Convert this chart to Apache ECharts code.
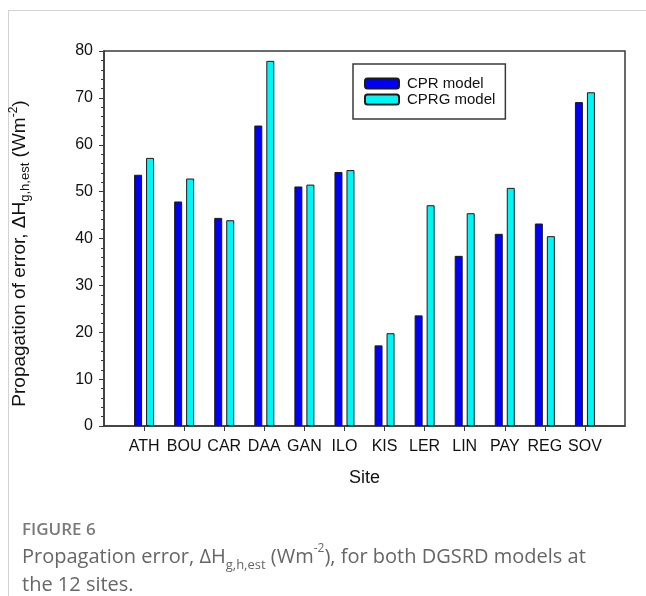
<!DOCTYPE html>
<html>
<head>
<meta charset="utf-8">
<script src="https://cdn.jsdelivr.net/npm/echarts@6/dist/echarts.min.js"></script>
<style>
  html, body { margin: 0; padding: 0; background: #fff; }
  #chart { width: 646px; height: 596px; }
</style>
</head>
<body>
<div id="chart"></div>
<script>
// Sites and propagation error per model (W m^-2)
const sites = ['ATH', 'BOU', 'CAR', 'DAA', 'GAN', 'ILO', 'KIS', 'LER', 'LIN', 'PAY', 'REG', 'SOV'];
const cprValues  = [53.6, 47.9, 44.4, 64.1, 51.1, 54.2, 17.2, 23.6, 36.3, 41.0, 43.2, 69.1];
const cprgValues = [57.2, 52.8, 43.9, 77.9, 51.5, 54.6, 19.8, 47.1, 45.4, 50.8, 40.5, 71.2];
const yTicks = { min: 0, max: 80, step: 10 };

// Pad both ends with an empty slot so the sites sit one step in from the frame
const axisCats = [''].concat(sites, ['']);
const pad = arr => [null].concat(arr, [null]);
const lastIdx = axisCats.length - 1;

const axisFont = 'Liberation Sans, Arial, sans-serif';
const frameColor = '#3a3a3a';
const captionColor = '#666';

const chart = echarts.init(document.getElementById('chart'), null, { renderer: 'canvas' });

chart.setOption({
  backgroundColor: '#ffffff',
  animation: false,
  grid: {
    left: 102, top: 51, width: 523, height: 375,
    show: true, borderColor: frameColor, borderWidth: 1.5, backgroundColor: 'transparent'
  },
  legend: {
    orient: 'vertical',
    left: 353, top: 64,
    itemWidth: 34, itemHeight: 10, itemGap: 1,
    padding: [12, 10, 12, 11],
    borderColor: frameColor, borderWidth: 1.5,
    backgroundColor: '#fff',
    textStyle: { fontFamily: axisFont, fontSize: 15, color: '#111', lineHeight: 15, padding: [0, 0, 0, 3] },
    data: ['CPR model', 'CPRG model']
  },
  xAxis: {
    type: 'category',
    data: axisCats,
    boundaryGap: false,
    name: 'Site',
    nameLocation: 'middle',
    nameGap: 43,
    nameTextStyle: { fontFamily: axisFont, fontSize: 18, color: '#111' },
    axisLine: { lineStyle: { color: frameColor, width: 1.5 } },
    axisTick: {
      show: true, inside: false, length: 5,
      interval: (i) => i > 0 && i < lastIdx,
      lineStyle: { color: frameColor, width: 1 }
    },
    axisLabel: {
      fontFamily: axisFont, fontSize: 16, color: '#111', margin: 13,
      interval: 0
    },
    splitLine: { show: false }
  },
  yAxis: {
    type: 'value',
    min: yTicks.min, max: yTicks.max, interval: yTicks.step,
    name: '{m|Propagation of error, \u0394H}{sub|g,h,est}{m| (Wm}{sup|-2}{m|)}',
    nameLocation: 'middle',
    nameGap: 72,
    nameRotate: 90,
    nameTextStyle: {
      fontFamily: axisFont, fontSize: 19, color: '#111',
      padding: [0, 30, 0, 0],
      rich: {
        m:   { fontFamily: axisFont, fontSize: 19, color: '#111', lineHeight: 24, verticalAlign: 'middle' },
        sub: { fontFamily: axisFont, fontSize: 13, color: '#111', lineHeight: 13, verticalAlign: 'bottom' },
        sup: { fontFamily: axisFont, fontSize: 12, color: '#111', lineHeight: 12, verticalAlign: 'top' }
      }
    },
    axisLine: { show: true, lineStyle: { color: frameColor, width: 1.5 } },
    axisTick: { show: true, inside: false, length: 5, lineStyle: { color: frameColor, width: 1 } },
    minorTick: { show: true, splitNumber: 5, length: 3, lineStyle: { color: frameColor, width: 1 } },
    axisLabel: { fontFamily: axisFont, fontSize: 16, color: '#111', margin: 11 },
    splitLine: { show: false }
  },
  series: [
    {
      name: 'CPR model', type: 'bar',
      data: pad(cprValues),
      barWidth: 8, barGap: '50%',
      itemStyle: { color: '#0000f5', borderColor: '#1a1a1a', borderWidth: 1 }
    },
    {
      name: 'CPRG model', type: 'bar',
      data: pad(cprgValues),
      barWidth: 8, barGap: '50%',
      itemStyle: { color: '#00f5f5', borderColor: '#1a1a1a', borderWidth: 1 }
    }
  ],
  graphic: [
    { type: 'line', shape: { x1: 8, y1: 10.5, x2: 646, y2: 10.5 }, style: { stroke: '#d2d2d2', lineWidth: 1 } },
    { type: 'line', shape: { x1: 8.5, y1: 10, x2: 8.5, y2: 596 }, style: { stroke: '#d2d2d2', lineWidth: 1 } },
    {
      type: 'text', left: 22, top: 522,
      style: { text: 'FIGURE 6', font: '600 17px "Open Sans", sans-serif', fill: '#7a7a7a' }
    },
    {
      type: 'text', left: 22, top: 543,
      style: {
        text: '{m|Propagation error, \u0394H}{sub|g,h,est}{m| (Wm}{sup|-2}{m|), for both DGSRD models at}',
        rich: {
          m:   { fontFamily: 'Open Sans', fontSize: 20, fill: captionColor, lineHeight: 29, verticalAlign: 'middle' },
          sub: { fontFamily: 'Open Sans', fontSize: 13, fill: captionColor, lineHeight: 15, verticalAlign: 'bottom' },
          sup: { fontFamily: 'Open Sans', fontSize: 12, fill: captionColor, lineHeight: 15, verticalAlign: 'top' }
        }
      }
    },
    {
      type: 'text', left: 22, top: 575,
      style: { text: 'the 12 sites.', font: '20px "Open Sans", sans-serif', fill: captionColor }
    }
  ]
});
</script>
</body>
</html>
